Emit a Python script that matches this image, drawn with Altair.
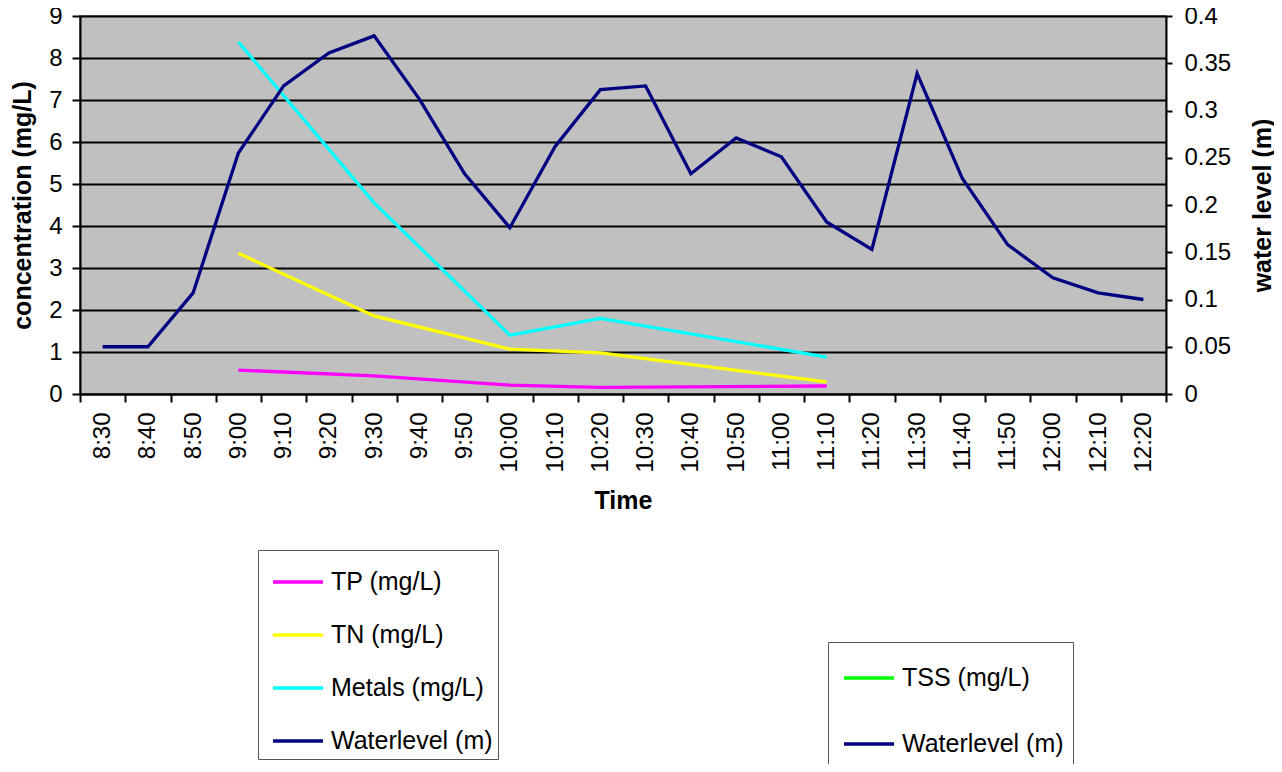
import altair as alt
import pandas as pd

times = ["8:30", "8:40", "8:50", "9:00", "9:10", "9:20", "9:30", "9:40", "9:50",
         "10:00", "10:10", "10:20", "10:30", "10:40", "10:50", "11:00", "11:10",
         "11:20", "11:30", "11:40", "11:50", "12:00", "12:10", "12:20"]
water_level = [0.05, 0.05, 0.107, 0.255, 0.326, 0.361, 0.379, 0.312, 0.233,
               0.176, 0.262, 0.322, 0.326, 0.233, 0.271, 0.251, 0.182,
               0.153, 0.339, 0.228, 0.158, 0.123, 0.107, 0.1]

sample_times = ["9:00", "9:30", "10:00", "10:20", "11:10"]
tp = [0.57, 0.43, 0.21, 0.16, 0.19]
tn = [3.35, 1.86, 1.07, 0.98, 0.29]
metals = [8.38, 4.55, 1.40, 1.80, 0.88]

legend1_names = ["TP (mg/L)", "TN (mg/L)", "Metals (mg/L)", "Waterlevel (m)"]
legend1_colors = ["#FF00FF", "#FFFF00", "#00FFFF", "#000080"]
legend2_names = ["TSS (mg/L)", "Waterlevel (m)"]
legend2_colors = ["#00FF00", "#000080"]

rows = []
for name, vals in zip(legend1_names[:3], [tp, tn, metals]):
    for t, v in zip(sample_times, vals):
        rows.append({"time": t, "series": name, "value": v})
conc_df = pd.DataFrame(rows)
water_df = pd.DataFrame({"time": times, "series": "Waterlevel (m)", "level": water_level})

FONT = "Liberation Sans"

x_enc = alt.X(
    "time:N",
    sort=times,
    bandPosition=0.5,
    scale=alt.Scale(type="band", domain=times, paddingInner=0, paddingOuter=0),
    axis=alt.Axis(
        title="Time", labelAngle=270, tickBand="extent", grid=False,
        labelFontSize=24, labelFont=FONT, labelColor="black", labelPadding=10,
        titleFontSize=25, titleFont=FONT, titleFontWeight="bold", titleColor="black",
        titlePadding=16, domainColor="black", domainWidth=2, tickColor="black",
        tickWidth=2, tickSize=8,
    ),
)

legend_common = dict(
    orient="none", title=None, symbolType="stroke", symbolSize=2500,
    symbolStrokeWidth=3.3, labelFontSize=25, labelFont=FONT, labelColor="black",
    strokeColor="#555555", fillColor="white", labelLimit=400, labelOffset=6,
)

conc = alt.Chart(conc_df).mark_line(strokeWidth=3.3).encode(
    x=x_enc,
    y=alt.Y(
        "value:Q",
        scale=alt.Scale(domain=[0, 9], nice=False),
        axis=alt.Axis(
            title="concentration (mg/L)", orient="left", values=list(range(10)),
            grid=True, gridColor="black", gridWidth=2, gridOpacity=1,
            labelFontSize=24, labelFont=FONT, labelColor="black", labelPadding=10,
            titleFontSize=25, titleFont=FONT, titleFontWeight="bold", titleColor="black",
            titleX=-58, titleY=189, titleAngle=270, titleAlign="center",
            titleBaseline="middle",
            domainColor="black", domainWidth=2, tickColor="black",
            tickWidth=2, tickSize=8,
        ),
    ),
    color=alt.Color(
        "series:N",
        scale=alt.Scale(domain=legend1_names, range=legend1_colors),
        legend=alt.Legend(legendX=178, legendY=534, padding=5, symbolOffset=8,
                          rowPadding=13, **legend_common),
    ),
)

water = alt.Chart(water_df).mark_line(strokeWidth=3.3).encode(
    x=x_enc,
    y=alt.Y(
        "level:Q",
        scale=alt.Scale(domain=[0, 0.4], nice=False),
        axis=alt.Axis(
            title="water level (m)", orient="right",
            values=[0, 0.05, 0.1, 0.15, 0.2, 0.25, 0.3, 0.35, 0.4], format="~g",
            grid=False, labelFontSize=24, labelFont=FONT, labelColor="black",
            labelPadding=12, titleFontSize=25, titleFont=FONT, titleFontWeight="bold",
            titleColor="black", titleX=96, titleY=189, titleAngle=270,
            titleAlign="center", titleBaseline="middle",
            domainColor="black", domainWidth=2,
            tickColor="black", tickWidth=2, tickSize=6,
        ),
    ),
    color=alt.Color(
        "series:N",
        scale=alt.Scale(domain=legend2_names, range=legend2_colors),
        legend=alt.Legend(legendX=748, legendY=626, padding=9, symbolOffset=5,
                          rowPadding=26, **legend_common),
    ),
)

chart = alt.layer(conc, water).resolve_scale(
    y="independent", color="independent"
).properties(
    width=1086, height=378,
    autosize=alt.AutoSizeParams(type="none"),
    padding={"left": 72, "top": 8, "right": 108, "bottom": 370},
    background="white",
).configure_view(
    fill="#C0C0C0", stroke="#808080", strokeWidth=2
)

chart.save("out.html", embed_options={"renderer": "svg", "actions": False})
